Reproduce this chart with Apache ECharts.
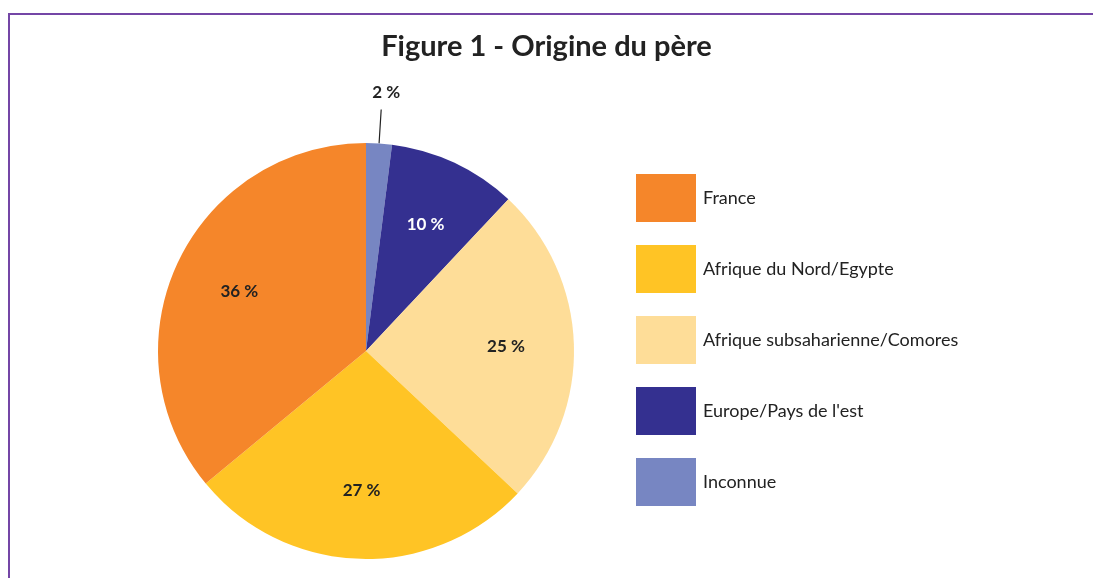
<!DOCTYPE html>
<html>
<head>
<meta charset="utf-8">
<script src="https://cdn.jsdelivr.net/npm/echarts@6/dist/echarts.min.js"></script>
<style>
  html, body { margin: 0; padding: 0; background: #fff; }
  #chart { width: 1093px; height: 578px; }
</style>
</head>
<body>
<div id="chart"></div>
<script>
var categories = ['Inconnue', 'Europe/Pays de l\'est', 'Afrique subsaharienne/Comores', 'Afrique du Nord/Egypte', 'France'];
var values = [2, 10, 25, 27, 36];
var colors = ['#7786c2', '#343090', '#fedd98', '#ffc425', '#f5862a'];
var legendOrder = ['France', 'Afrique du Nord/Egypte', 'Afrique subsaharienne/Comores', 'Europe/Pays de l\'est', 'Inconnue'];

var myChart = echarts.init(document.getElementById('chart'));

var pieData = categories.map(function (name, i) {
    return { name: name, value: values[i], itemStyle: { color: colors[i] } };
});

var fmt = function (p) { return p.value + ' %'; };

var option = {
    animation: false,
    title: {
        text: 'Figure 1 - Origine du père',
        left: 'center',
        top: 27,
        textStyle: { fontFamily: 'Lato', fontWeight: 'bold', fontSize: 29, color: '#222' }
    },
    graphic: [{
        type: 'rect',
        shape: { x: 9, y: 14, width: 1100, height: 600 },
        style: { fill: null, stroke: '#7446a6', lineWidth: 2 },
        silent: true
    }],
    legend: {
        orient: 'vertical',
        left: 636,
        top: 174,
        padding: 0,
        itemWidth: 60,
        itemHeight: 48,
        itemGap: 23,
        icon: 'rect',
        data: legendOrder,
        textStyle: { fontFamily: 'Lato', fontSize: 18, color: '#222', padding: [4, 0, 0, 2] }
    },
    series: [
        {
            type: 'pie',
            center: [366, 351],
            radius: 208,
            startAngle: 90,
            clockwise: true,
            silent: true,
            data: pieData.map(function (d, i) {
                var o = Object.assign({}, d);
                if (i === 0) {
                    o.label = { show: true, position: 'outside', formatter: fmt,
                        fontFamily: 'Lato', fontWeight: 'bold', fontSize: 17, color: '#222' };
                    o.labelLine = { show: true, length: 34, length2: 0, lineStyle: { color: '#222', width: 1.2 } };
                } else {
                    o.label = { show: false };
                    o.labelLine = { show: false };
                }
                return o;
            }),
            labelLayout: function (params) {
                if (params.dataIndex === 0) {
                    return { dx: -params.labelRect.width / 2, dy: -params.labelRect.height / 2 - 8 };
                }
            }
        },
        {
            type: 'pie',
            center: [366, 351],
            radius: [66, 208],
            startAngle: 90,
            clockwise: true,
            silent: true,
            legendHoverLink: false,
            itemStyle: { color: 'rgba(0,0,0,0)' },
            label: {
                show: true,
                position: 'inside',
                formatter: fmt,
                fontFamily: 'Lato', fontWeight: 'bold', fontSize: 17,
                color: '#222'
            },
            data: categories.map(function (name, i) {
                return {
                    name: name + ' ',
                    value: values[i],
                    label: { show: i > 0, color: i === 1 ? '#ffffff' : '#222' }
                };
            })
        }
    ]
};
myChart.setOption(option);
</script>
</body>
</html>
